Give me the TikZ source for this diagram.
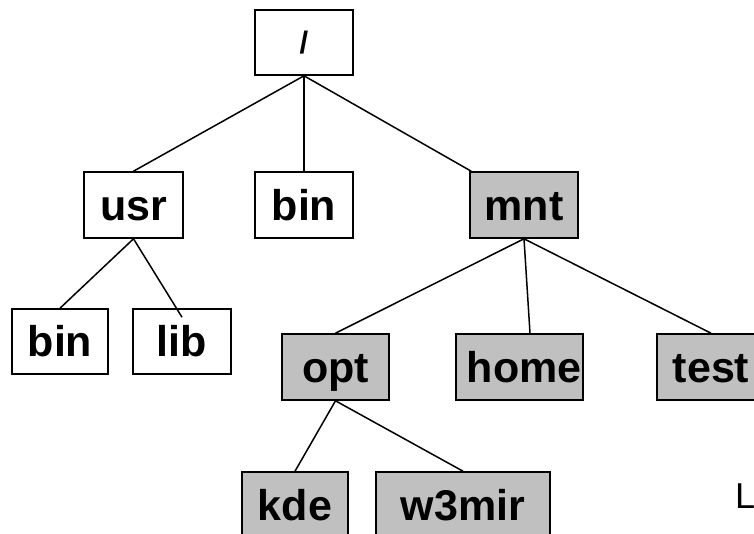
\documentclass[tikz,border=0pt]{standalone}
\usepackage{fontspec}
\setmainfont{Liberation Sans}
\definecolor{boxgray}{HTML}{C0C0C0}
\tikzset{
  dirbox/.style={draw=black, line width=1.6pt, fill=white, inner sep=0pt,
    font=\fontsize{43}{48}\selectfont\bfseries, text height=31pt, text depth=1pt},
  mntbox/.style={dirbox, fill=boxgray},
  link/.style={draw=black, line width=1.5pt}
}
\begin{document}
\begin{tikzpicture}[x=1pt,y=-1pt]
\clip (0,0) rectangle (754,533);
\fill[white] (0,0) rectangle (754,533);
% level 0
\node[dirbox, minimum width=98pt, minimum height=65pt, font=\fontsize{31}{34}\selectfont\bfseries, text height=22pt, text depth=0pt] (root) at (304,42.5) {/};
% level 1
\node[dirbox, minimum width=99pt, minimum height=66pt] (usr) at (133.5,205) {usr};
\node[dirbox, minimum width=98pt, minimum height=66pt] (bina) at (304,205) {bin};
\node[mntbox, minimum width=108pt, minimum height=66pt] (mnt) at (524,205) {mnt};
% level 2
\node[dirbox, minimum width=96pt, minimum height=65pt] (binb) at (60,341.5) {bin};
\node[dirbox, minimum width=98pt, minimum height=65pt] (lib) at (182,341.5) {lib};
\node[mntbox, minimum width=107pt, minimum height=66pt] (opt) at (335.5,367) {opt};
\node[mntbox, minimum width=127pt, minimum height=66pt, text width=124pt, align=right] (home) at (519.5,367) {home};
\node[mntbox, minimum width=108pt, minimum height=66pt] (test) at (711,367) {test};
% level 3
\node[mntbox, minimum width=106pt, minimum height=66pt] (kde) at (295,505) {kde};
\node[mntbox, minimum width=174pt, minimum height=66pt] (w3mir) at (463,505) {w3mir};
% cut-off text
\node[anchor=base west, inner sep=0pt, font=\fontsize{36}{40}\selectfont] (cut) at (735,508) {L};
% connectors
\draw[link] (root.south) -- (usr.north);
\draw[link] (root.south) -- (bina.north);
\draw[link] (root.south) -- ([xshift=2pt]mnt.north west);
\draw[link] (usr.south) -- (binb.north);
\draw[link] (usr.south) -- ([yshift=-9pt]lib.north);
\draw[link] (mnt.south) -- (opt.north);
\draw[link] (mnt.south) -- ([xshift=10.5pt]home.north);
\draw[link] (mnt.south) -- (test.north);
\draw[link] (opt.south) -- (kde.north);
\draw[link] (opt.south) -- (w3mir.north);
\end{tikzpicture}
\end{document}
